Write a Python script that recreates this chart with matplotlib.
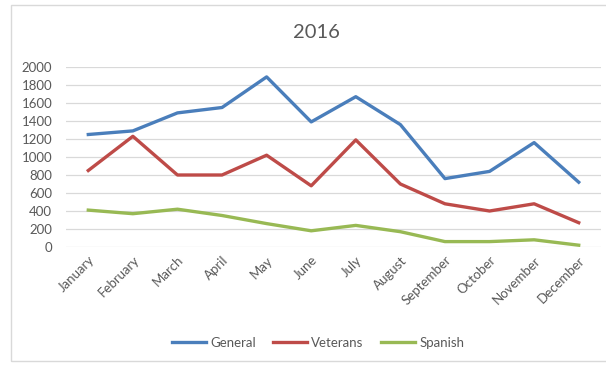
import matplotlib
matplotlib.use('Agg')
from matplotlib import pyplot as plt
from matplotlib.patches import Rectangle

months = ['January', 'February', 'March', 'April', 'May', 'June', 'July',
          'August', 'September', 'October', 'November', 'December']
general = [1250, 1290, 1490, 1550, 1890, 1390, 1670, 1360, 760, 840, 1160, 720]
veterans = [850, 1230, 800, 800, 1020, 680, 1190, 700, 480, 400, 480, 270]
spanish = [410, 370, 420, 350, 260, 180, 240, 170, 60, 60, 80, 20]
yticks = [0, 200, 400, 600, 800, 1000, 1200, 1400, 1600, 1800, 2000]

W, H = 606, 366
plt.rcParams['font.family'] = ['Lato', 'DejaVu Sans']
fig = plt.figure(figsize=(W / 100, H / 100), dpi=100)
# chart frame (right side runs off the image)
fig.patches.append(Rectangle((11 / W, 5 / H), 1.0, 356 / H, transform=fig.transFigure,
                             fill=False, edgecolor='#d9d9d9', linewidth=1))

ax = fig.add_axes([66 / W, 119 / H, 535 / W, 180 / H])
x = range(len(months))
ax.plot(x, general, color='#4a7ebb', linewidth=2.4, label='General', solid_joinstyle='round')
ax.plot(x, veterans, color='#be4b48', linewidth=2.4, label='Veterans', solid_joinstyle='round')
ax.plot(x, spanish, color='#98b954', linewidth=2.4, label='Spanish', solid_joinstyle='round')

ax.set_xlim(-0.5, 11.5)
ax.set_ylim(0, 2000)
ax.set_yticks(yticks)
ax.set_yticklabels([str(v) for v in yticks], fontsize=9.5, color='#595959')
ax.set_xticks(list(x))
ax.set_xticklabels(months, rotation=45, ha='right', rotation_mode='anchor',
                   fontsize=9.5, color='#595959')
ax.tick_params(axis='y', length=0, pad=10)
ax.tick_params(axis='x', length=0, pad=5)
ax.grid(axis='y', color='#d9d9d9', linewidth=0.9)
ax.set_axisbelow(True)
for s in ax.spines.values():
    s.set_visible(False)

fig.text(316 / W, 1 - 32 / H, '2016', ha='center', va='center', fontsize=14.5, color='#595959')
fig.legend(loc='center', bbox_to_anchor=(318 / W, 1 - 343 / H), ncol=3, frameon=False,
           fontsize=9.5, labelcolor='#595959', handlelength=2.6, handletextpad=0.3,
           columnspacing=1.3)

fig.savefig('out.png', dpi=100)
